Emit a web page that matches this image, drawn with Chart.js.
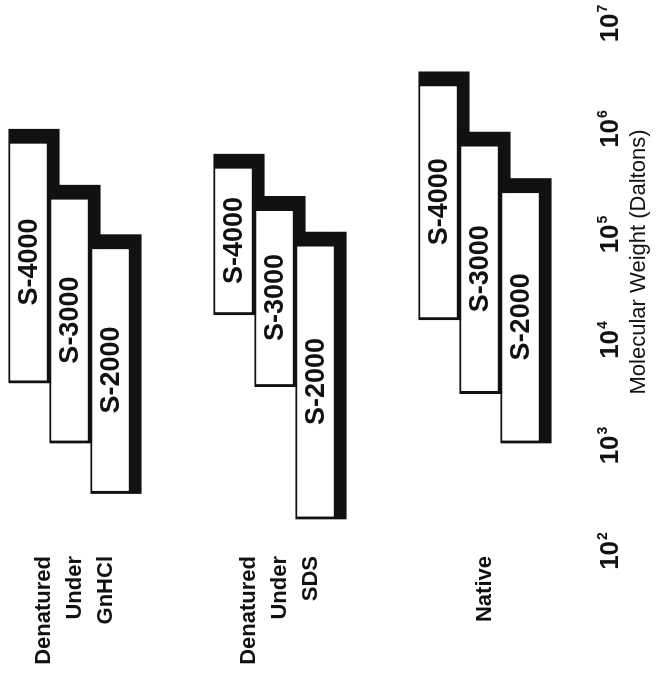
<!DOCTYPE html>
<html>
<head>
<meta charset="utf-8">
<script src="https://cdn.jsdelivr.net/npm/chart.js@4/dist/chart.umd.min.js"></script>
<style>
    html, body { margin: 0; padding: 0; background: #fff; overflow: hidden; }
    /* chart is built upright (horizontal bars) and turned a quarter left, like the scan */
    #gelChart {
        position: absolute;
        left: 0;
        top: 0;
        transform-origin: 0 0;
        transform: translateY(678px) rotate(-90deg);
    }
</style>
</head>
<body>
<canvas id="gelChart" width="678" height="668"></canvas>
<script>
// groups, one label line per array entry
const categories = [
    ['Denatured', 'Under', 'GnHCl'],
    ['Denatured', 'Under', 'SDS'],
    ['Native']
];
const resins = ['S-4000', 'S-3000', 'S-2000'];

// fractionation range (Daltons) per group: GnHCl, SDS, Native
const s4000Low  = [3900, 17300, 15500];
const s4000High = [1000000, 580000, 3500000];
const s3000Low  = [1050, 3600, 3100];
const s3000High = [295000, 230000, 940000];
const s2000Low  = [350, 200, 1050];
const s2000High = [100000, 106000, 340000];

const tickExponents = [2, 3, 4, 5, 6, 7];
const axisTitle = 'Molecular Weight (Daltons)';

const SLOTS_PER_GROUP = 5;

function buildLabels() {
    const labels = [];
    categories.forEach(lines => {
        for (let k = 0; k < SLOTS_PER_GROUP; k++) {
            labels.push(k === 1 ? lines : '');
        }
    });
    return labels;
}

function buildSeries(low, high, pos) {
    const data = new Array(categories.length * SLOTS_PER_GROUP).fill(null);
    low.forEach((lo, g) => {
        data[g * SLOTS_PER_GROUP + pos] = [lo, high[g]];
    });
    return data;
}

const barStyle = {
    backgroundColor: '#ffffff',
    borderColor: '#111111',
    borderWidth: { top: 2, right: 15, bottom: 13, left: 3 },
    borderSkipped: false,
    barThickness: 51,
    grouped: false,
    clip: false
};

// labels inside the boxes + the hand drawn log axis
const gelLabels = {
    id: 'gelLabels',
    afterDatasetsDraw(chart) {
        const ctx = chart.ctx;
        ctx.save();
        ctx.fillStyle = '#111';
        ctx.font = 'bold 27px "Liberation Sans", Arial, sans-serif';
        ctx.textAlign = 'center';
        ctx.textBaseline = 'middle';
        chart.data.datasets.forEach((ds, i) => {
            const meta = chart.getDatasetMeta(i);
            meta.data.forEach((bar, j) => {
                if (!ds.data[j]) return;
                const p = bar.getProps(['x', 'y', 'base', 'height'], true);
                const left = Math.min(p.x, p.base) + 3;
                const right = Math.max(p.x, p.base) - 15;
                const top = p.y - p.height / 2 + 2;
                const bottom = p.y + p.height / 2 - 13;
                ctx.fillText(ds.label, (left + right) / 2, (top + bottom) / 2 + 1);
            });
        });
        ctx.restore();
    },
    afterDraw(chart) {
        const ctx = chart.ctx;
        const xs = chart.scales.x;
        ctx.save();
        ctx.fillStyle = '#111';
        ctx.textBaseline = 'alphabetic';
        ctx.textAlign = 'left';
        const bigFont = 'bold 26px "Liberation Sans Narrow", "Liberation Sans", Arial, sans-serif';
        const supFont = 'bold 14px "Liberation Sans Narrow", "Liberation Sans", Arial, sans-serif';
        tickExponents.forEach(e => {
            const u = xs.getPixelForValue(Math.pow(10, e));
            ctx.font = bigFont;
            const w1 = ctx.measureText('10').width;
            ctx.font = supFont;
            const w2 = ctx.measureText(String(e)).width;
            const start = u - (w1 + w2 + 1) / 2;
            ctx.font = bigFont;
            ctx.fillText('10', start, 618);
            ctx.font = supFont;
            ctx.fillText(String(e), start + w1 + 1, 607);
        });
        ctx.font = '22px "Liberation Sans", Arial, sans-serif';
        ctx.textAlign = 'center';
        ctx.textBaseline = 'middle';
        ctx.fillText(axisTitle, 416, 639);
        ctx.restore();
    }
};

new Chart(document.getElementById('gelChart'), {
    type: 'bar',
    data: {
        labels: buildLabels(),
        datasets: [
            { label: resins[2], data: buildSeries(s2000Low, s2000High, 2), order: 1, ...barStyle },
            { label: resins[1], data: buildSeries(s3000Low, s3000High, 1), order: 2, ...barStyle },
            { label: resins[0], data: buildSeries(s4000Low, s4000High, 0), order: 3, ...barStyle }
        ]
    },
    options: {
        indexAxis: 'y',
        responsive: false,
        animation: false,
        layout: { padding: { top: 13.5, right: 23.5, left: 0, bottom: 0 } },
        plugins: {
            legend: { display: false },
            tooltip: { enabled: false }
        },
        scales: {
            x: {
                type: 'logarithmic',
                min: 100,
                max: 10000000,
                grid: { display: false },
                border: { display: false },
                ticks: { display: false },
                afterFit: scale => {
                    scale.height = 39.5;
                    scale.paddingLeft = 0;
                    scale.paddingRight = 0;
                }
            },
            y: {
                grid: { display: false, drawTicks: false },
                border: { display: false },
                ticks: {
                    autoSkip: false,
                    padding: 5,
                    color: '#111',
                    font: { family: '"Liberation Sans", Arial, sans-serif', size: 22, weight: 'bold', lineHeight: 1.4 }
                },
                afterFit: scale => {
                    scale.width = 127;
                    scale.paddingTop = 0;
                    scale.paddingBottom = 0;
                }
            }
        }
    },
    plugins: [gelLabels]
});
</script>
</body>
</html>
